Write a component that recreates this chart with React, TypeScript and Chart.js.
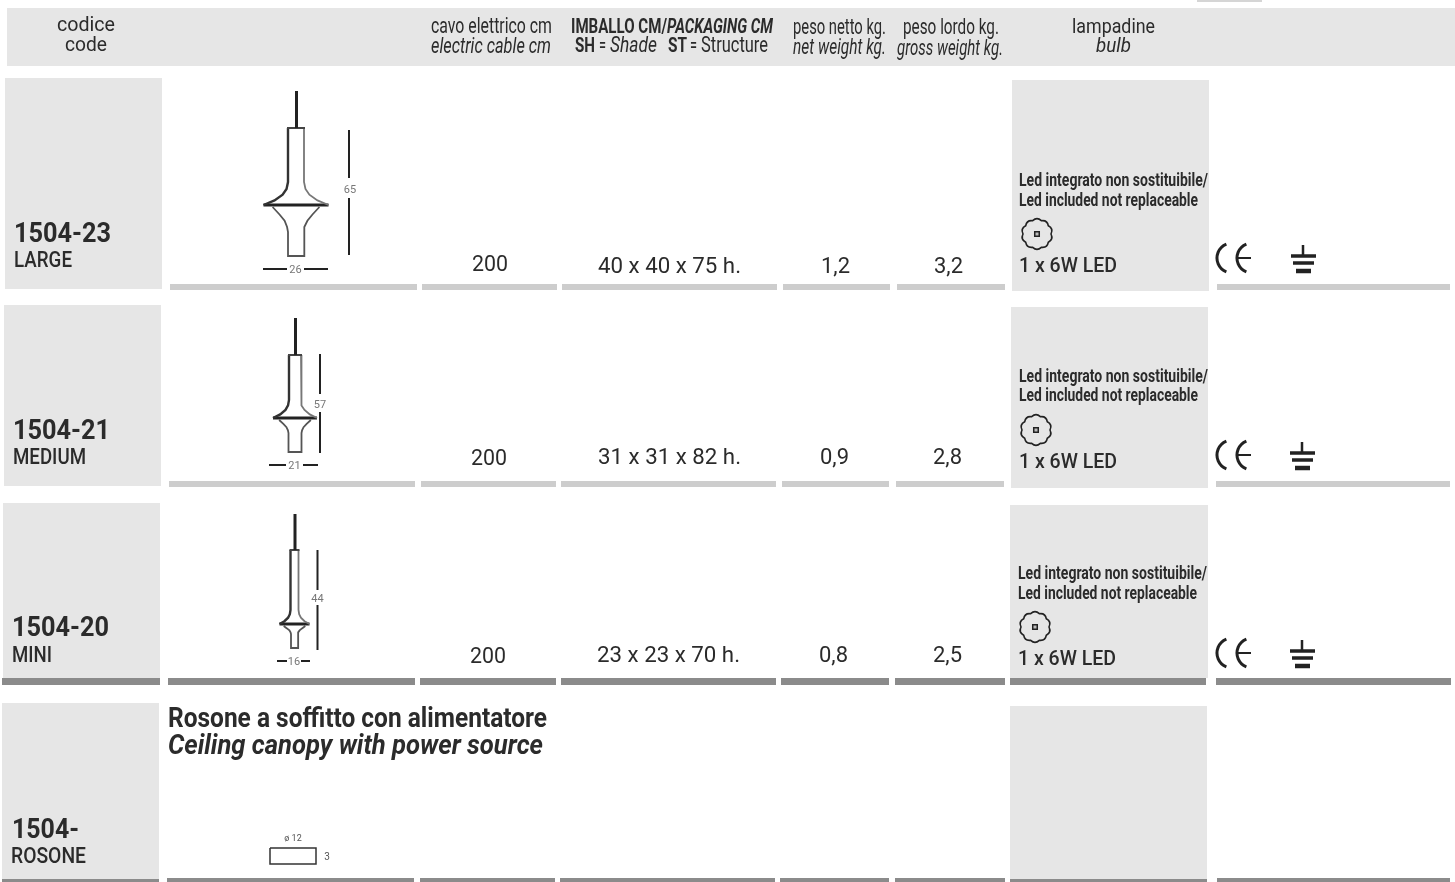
import React, { useEffect, useRef } from "react";
import { Chart, registerables } from "chart.js";

Chart.register(...registerables);

// ---------- table content ----------
const codes = ["1504-23", "1504-21", "1504-20", "1504-"];
const sizes = ["LARGE", "MEDIUM", "MINI", "ROSONE"];
const cableLengths = ["200", "200", "200"];
const packaging = ["40 x 40 x 75 h.", "31 x 31 x 82 h.", "23 x 23 x 70 h."];
const netWeights = ["1,2", "0,9", "0,8"];
const grossWeights = ["3,2", "2,8", "2,5"];
const ledLine1 = "Led integrato non sostituibile/";
const ledLine2 = "Led included not replaceable";
const bulbLabel = "1 x 6W LED";
const lampHeights = ["65", "57", "44"];
const lampWidths = ["26", "21", "16"];
const rosoneIt = "Rosone a soffitto con alimentatore";
const rosoneEn = "Ceiling canopy with power source";

// ---------- layout (pixel-like units of the hidden axes) ----------
const W = 1455;
const H = 882;
const INK = "#2b2b2b";
const PANEL = "#e6e6e6";
const RULE_LIGHT = "#cdcdcd";
const RULE_DARK = "#8b8b8b";

const headerBand = { x0: 7, x1: 1455, y0: 8, y1: 66 };
const codePanels = [[5, 162, 78, 289], [4, 161, 305, 486], [3, 160, 503, 678], [2, 159, 703, 879]];
const bulbPanels = [[1012, 1209, 80, 291], [1011, 1208, 307, 488], [1010, 1208, 505, 678], [1010, 1207, 706, 879]];
const ruleRows = [
  { y0: 284, y1: 290, c: RULE_LIGHT, s: [[170, 417], [422, 557], [562, 777], [783, 890], [897, 1005], [1217, 1450]] },
  { y0: 481, y1: 487, c: RULE_LIGHT, s: [[169, 415], [421, 556], [561, 776], [782, 889], [896, 1004], [1216, 1450]] },
  { y0: 678, y1: 685, c: RULE_DARK, s: [[2, 160], [168, 415], [420, 556], [561, 776], [781, 889], [895, 1005], [1010, 1206], [1216, 1451]] },
  { y0: 878, y1: 882, c: RULE_DARK, s: [[2, 159], [167, 414], [420, 555], [560, 775], [780, 889], [895, 1005], [1010, 1207], [1217, 1450]] },
];

const rows = [
  { cx: 14, cy: 242, sy: 267, sw: 58, cabX: 472, cabY: 271, pX: 598, pY: 273, nX: 821, gX: 934, wY: 273, lX: 1019, l1: 186, l2: 206, iX: 1037, iY: 234, bY: 272, ceX: 1232, ceY: 258, gdX: 1303, gdY: 245 },
  { cx: 13, cy: 439, sy: 464, sw: 73, cabX: 471, cabY: 465, pX: 598, pY: 464, nX: 820, gX: 933, wY: 464, lX: 1019, l1: 382, l2: 401, iX: 1036, iY: 430, bY: 468, ceX: 1232, ceY: 455, gdX: 1302, gdY: 442 },
  { cx: 12, cy: 636, sy: 662, sw: 40, cabX: 470, cabY: 663, pX: 597, pY: 662, nX: 819, gX: 933, wY: 662, lX: 1018, l1: 579, l2: 599, iX: 1035, iY: 627, bY: 665, ceX: 1232, ceY: 653, gdX: 1302, gdY: 640 },
];

const lamps = [
  { cx: 296, cableTop: 91, top: 128, hw: 8, flare: 182, disc: 205, dw: 32.5, lowerIn: 232, bottom: 256, bhw: 8, dimX: 349, dimTop: 130, gapTop: 178, gapBot: 198, dimBot: 255, wY: 269, wL: 263, wR: 328, wGapL: 287, wGapR: 304, tx: 350, ty: 189 },
  { cx: 295, cableTop: 318, top: 355, hw: 6, flare: 400, disc: 418, dw: 22, lowerIn: 433, bottom: 452, bhw: 6.5, dimX: 320, dimTop: 354, gapTop: 394, gapBot: 412, dimBot: 453, wY: 465, wL: 269, wR: 318, wGapL: 286, wGapR: 303, tx: 320, ty: 404 },
  { cx: 294.5, cableTop: 514, top: 550, hw: 4, flare: 610, disc: 624, dw: 15, lowerIn: 634, bottom: 648, bhw: 3.5, dimX: 317.5, dimTop: 550, gapTop: 590, gapBot: 605, dimBot: 650, wY: 661, wL: 277, wR: 310, wGapL: 287, wGapR: 301, tx: 317.5, ty: 598 },
];
const flareU = [0, 0.3, 0.55, 0.8, 1];
const flareX = [0, 0.06, 0.22, 0.55, 1];

type Pt = { x: number; y: number };
type Txt = { t: string; x: number; y: number; w?: number; font: string; color?: string; center?: boolean };

const seg = (pts: number[][], width: number, color: string): any => ({
  type: "line",
  data: pts.map(([x, y]) => ({ x, y })) as Pt[],
  borderColor: color,
  borderWidth: width,
  pointRadius: 0,
  fill: false,
  tension: 0,
  order: 1,
});

const block = (x0: number, x1: number, y0: number, y1: number, color: string): any => ({
  type: "bar",
  data: [{ x: (x0 + x1) / 2, y: [y0, y1] }],
  backgroundColor: color,
  borderWidth: 0,
  inflateAmount: 0,
  barThickness: x1 - x0,
  grouped: false,
  order: 2,
});

function buildDatasets(): any[] {
  const ds: any[] = [];
  ds.push(block(headerBand.x0, headerBand.x1, headerBand.y0, headerBand.y1, PANEL));
  ds.push(block(1197, 1262, 0, 2, "#d5d5d5"));
  [...codePanels, ...bulbPanels].forEach(([a, b, c, d]) => ds.push(block(a, b, c, d, PANEL)));
  ruleRows.forEach((r) => r.s.forEach(([a, b]) => ds.push(block(a, b, r.y0, r.y1, r.c))));

  lamps.forEach((l) => {
    const flarePts = (sign: number) =>
      flareU.map((u, i) => [l.cx + sign * (l.hw + (l.dw - l.hw) * flareX[i]), l.flare + (l.disc - l.flare) * u]);
    const lowerPts = (sign: number) =>
      flareU.map((u, i) => [
        l.cx + sign * (l.bhw + (l.dw * 0.72 - l.bhw) * flareX[4 - i]),
        l.disc + 2 + (l.lowerIn - l.disc - 2) * u,
      ]);
    ds.push(seg([[l.cx + 0.5, l.cableTop], [l.cx + 0.5, l.top]], 3, "#222"));
    ds.push(seg([[l.cx - l.hw - 1, l.top], [l.cx + l.hw + 1, l.top]], 2, "#444"));
    ds.push(seg([[l.cx - l.hw, l.top], ...flarePts(-1)], 2.4, "#333"));
    ds.push(seg([[l.cx + l.hw, l.top], ...flarePts(1)], 1.8, "#777"));
    ds.push(seg([[l.cx - l.dw, l.disc], [l.cx + l.dw, l.disc]], 3, "#222"));
    ds.push(seg([...lowerPts(-1), [l.cx - l.bhw, l.bottom], [l.cx + l.bhw, l.bottom], [l.cx + l.bhw, l.lowerIn], ...lowerPts(1).reverse()], 1.8, "#555"));
    ds.push(seg([[l.dimX, l.dimTop], [l.dimX, l.gapTop]], 2, "#222"));
    ds.push(seg([[l.dimX, l.gapBot], [l.dimX, l.dimBot]], 2, "#222"));
    ds.push(seg([[l.wL, l.wY], [l.wGapL, l.wY]], 2, "#222"));
    ds.push(seg([[l.wGapR, l.wY], [l.wR, l.wY]], 2, "#222"));
  });

  rows.forEach((r) => {
    const g = r.gdX;
    const y = r.gdY;
    ds.push(seg([[g, y], [g, y + 11]], 2.5, "#222"));
    ds.push(seg([[g - 12, y + 11], [g + 13, y + 11]], 3.5, "#222"));
    ds.push(seg([[g - 10, y + 18], [g + 11, y + 18]], 3.5, "#222"));
    ds.push(seg([[g - 7, y + 26], [g + 8, y + 26]], 4.5, "#222"));
    // bulb centre mark
    ds.push({
      type: "line",
      data: [{ x: r.iX, y: r.iY }],
      pointStyle: "rect",
      pointRadius: 3.2,
      pointBorderWidth: 1.5,
      pointBorderColor: "#222",
      pointBackgroundColor: "#bbb",
      showLine: false,
      order: 0,
    });
  });

  // ceiling canopy
  ds.push(seg([[270, 848], [316, 848], [316, 864], [270, 864], [270, 848]], 1.5, "#333"));
  return ds;
}

function buildTexts(): Txt[] {
  const out: Txt[] = [];
  const head = "400 22px Roboto";
  const headI = "italic 400 22px Roboto";
  const bold = "700 21px Roboto";
  const boldI = "italic 700 21px Roboto";
  out.push(
    { t: "codice", x: 57, y: 31, w: 58, font: "400 20px Roboto" },
    { t: "code", x: 65, y: 51, w: 42, font: "400 20px Roboto" },
    { t: "cavo elettrico cm", x: 431, y: 33, w: 121, font: head },
    { t: "electric cable cm", x: 431, y: 53, w: 120, font: headI },
    { t: "IMBALLO CM/", x: 571, y: 33, w: 96, font: bold },
    { t: "PACKAGING CM", x: 667, y: 33, w: 106, font: boldI },
    { t: "SH", x: 575, y: 52, w: 20, font: bold },
    { t: "=", x: 599, y: 52, w: 7, font: head },
    { t: "Shade", x: 610, y: 52, w: 47, font: headI },
    { t: "ST", x: 668, y: 52, w: 19, font: bold },
    { t: "=", x: 690, y: 52, w: 7, font: head },
    { t: "Structure", x: 701, y: 52, w: 67, font: head },
    { t: "peso netto kg.", x: 793, y: 34, w: 93, font: head },
    { t: "net weight kg.", x: 793, y: 54, w: 93, font: headI },
    { t: "peso lordo kg.", x: 903, y: 34, w: 96, font: head },
    { t: "gross weight kg.", x: 897, y: 55, w: 106, font: headI },
    { t: "lampadine", x: 1072, y: 33, w: 83, font: "400 21px Roboto" },
    { t: "bulb", x: 1096, y: 52, w: 35, font: "italic 400 21px Roboto" },
  );
  rows.forEach((r, i) => {
    out.push(
      { t: codes[i], x: r.cx, y: r.cy, w: 97, font: "700 28px Roboto" },
      { t: sizes[i], x: r.cx, y: r.sy, w: r.sw, font: "500 22px Roboto" },
      { t: cableLengths[i], x: r.cabX, y: r.cabY, w: 36, font: "400 22px Roboto" },
      { t: packaging[i], x: r.pX, y: r.pY, w: 143, font: "400 22px Roboto" },
      { t: netWeights[i], x: r.nX, y: r.wY, w: 29, font: "400 22px Roboto" },
      { t: grossWeights[i], x: r.gX, y: r.wY, w: 29, font: "400 22px Roboto" },
      { t: ledLine1, x: r.lX, y: r.l1, w: 189, font: "700 19px Roboto" },
      { t: ledLine2, x: r.lX, y: r.l2, w: 179, font: "700 19px Roboto" },
      { t: bulbLabel, x: r.lX, y: r.bY, w: 98, font: "500 20px Roboto" },
    );
  });
  lamps.forEach((l, i) => {
    out.push(
      { t: lampHeights[i], x: l.tx, y: l.ty + 4, font: "400 11px Roboto", color: "#777", center: true },
      { t: lampWidths[i], x: (l.wGapL + l.wGapR) / 2, y: l.wY + 4, font: "400 11px Roboto", color: "#777", center: true },
    );
  });
  out.push(
    { t: codes[3], x: 12, y: 838, w: 67, font: "700 28px Roboto" },
    { t: sizes[3], x: 11, y: 863, w: 75, font: "500 22px Roboto" },
    { t: rosoneIt, x: 168, y: 727, w: 379, font: "700 28px Roboto" },
    { t: rosoneEn, x: 168, y: 754, w: 375, font: "italic 700 28px Roboto" },
    { t: "ø 12", x: 293, y: 841, font: "400 9px Roboto", color: "#555", center: true },
    { t: "3", x: 327, y: 860, font: "400 10px Roboto", color: "#555", center: true },
  );
  return out;
}

const tablePlugin = {
  id: "tableText",
  afterDatasetsDraw(chart: any) {
    const { ctx, scales } = chart;
    const px = (v: number) => scales.x.getPixelForValue(v);
    const py = (v: number) => scales.y.getPixelForValue(v);

    rows.forEach((r) => {
      const cx = px(r.iX);
      const cy = py(r.iY);
      ctx.save();
      ctx.strokeStyle = "#222";
      ctx.lineWidth = 1.6;
      // scalloped bulb outline
      const bumps = 10;
      ctx.beginPath();
      for (let k = 0; k < bumps; k++) {
        const a0 = (k / bumps) * Math.PI * 2;
        const a1 = ((k + 1) / bumps) * Math.PI * 2;
        const am = (a0 + a1) / 2;
        if (k === 0) ctx.moveTo(cx + 14 * Math.cos(a0), cy + 14 * Math.sin(a0));
        ctx.quadraticCurveTo(cx + 17.5 * Math.cos(am), cy + 17.5 * Math.sin(am), cx + 14 * Math.cos(a1), cy + 14 * Math.sin(a1));
      }
      ctx.closePath();
      ctx.stroke();
      // CE mark
      const ex = px(r.ceX);
      const ey = py(r.ceY);
      ctx.lineWidth = 3;
      ctx.beginPath();
      ctx.arc(ex, ey, 15, (112 * Math.PI) / 180, (248 * Math.PI) / 180);
      ctx.stroke();
      ctx.beginPath();
      ctx.arc(ex + 20, ey, 15, (112 * Math.PI) / 180, (248 * Math.PI) / 180);
      ctx.stroke();
      ctx.lineWidth = 2;
      ctx.beginPath();
      ctx.moveTo(ex + 6, ey);
      ctx.lineTo(ex + 19, ey);
      ctx.stroke();
      ctx.restore();
    });

    buildTexts().forEach((t) => {
      ctx.save();
      ctx.font = t.font;
      ctx.fillStyle = t.color || INK;
      ctx.textBaseline = "alphabetic";
      const m = ctx.measureText(t.t).width;
      if (t.center) {
        ctx.textAlign = "center";
        ctx.fillText(t.t, px(t.x), py(t.y));
      } else {
        ctx.textAlign = "left";
        ctx.translate(px(t.x), py(t.y));
        if (t.w) ctx.scale(t.w / m, 1);
        ctx.fillText(t.t, 0, 0);
      }
      ctx.restore();
    });
  },
};

export default function App() {
  const ref = useRef<HTMLCanvasElement | null>(null);
  useEffect(() => {
    if (!ref.current) return;
    const chart = new Chart(ref.current, {
      type: "line",
      data: { datasets: buildDatasets() },
      options: {
        animation: false,
        responsive: false,
        maintainAspectRatio: false,
        layout: { padding: 0, autoPadding: false },
        plugins: { legend: { display: false }, tooltip: { enabled: false }, title: { display: false } },
        scales: {
          x: { type: "linear", min: 0, max: W, display: false, offset: false },
          y: { type: "linear", min: 0, max: H, reverse: true, display: false },
        },
      },
      plugins: [tablePlugin],
    } as any);
    return () => chart.destroy();
  }, []);
  return (
    <canvas
      ref={ref}
      width={W}
      height={H}
      style={{ position: "absolute", left: 0, top: 0, width: W, height: H, display: "block", background: "#fff", filter: "blur(0.6px)" }}
    />
  );
}
